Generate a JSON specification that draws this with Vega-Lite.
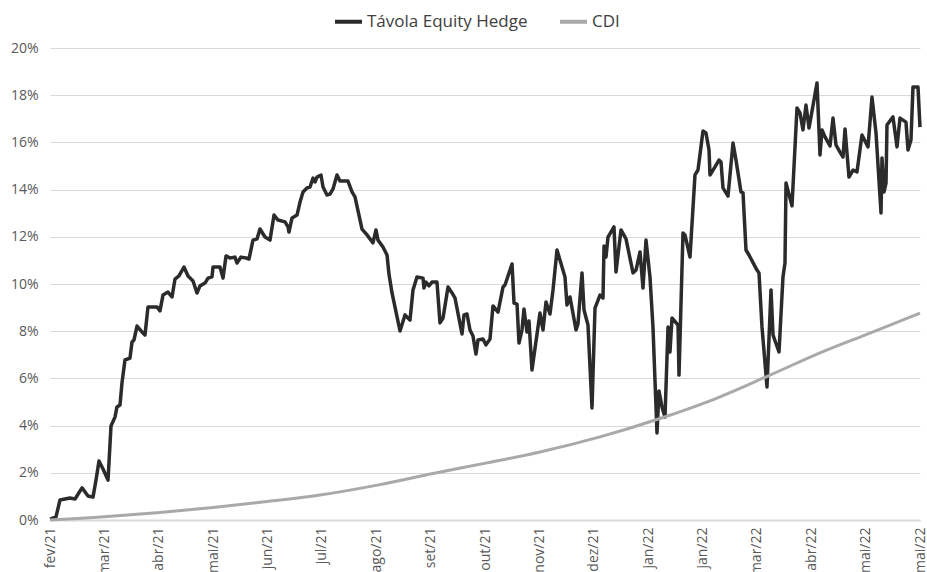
{
  "$schema": "https://vega.github.io/schema/vega-lite/v6.json",
  "width": 870,
  "height": 472,
  "autosize": {"type": "none"},
  "padding": {"left": 50, "top": 48, "right": 7, "bottom": 52},
  "background": "white",
  "config": {
    "font": "Open Sans",
    "view": {"stroke": null},
    "axis": {"labelFont": "Open Sans", "labelColor": "#595959", "labelFontSize": 14, "ticks": false, "title": null},
    "legend": {"labelFont": "Open Sans", "labelFontSize": 17, "labelColor": "#404040", "labelLimit": 400}
  },
  "datasets": {
    "fund": [
      {"t":0.000,"v":0.04},{"t":0.110,"v":0.13},{"t":0.184,"v":0.85},{"t":0.368,"v":0.93},{"t":0.460,"v":0.89},{"t":0.589,"v":1.36},{"t":0.699,"v":1.02},{"t":0.791,"v":0.97},{"t":0.846,"v":1.69},{"t":0.901,"v":2.50},{"t":0.975,"v":2.16},{"t":1.067,"v":1.69},{"t":1.122,"v":3.98},{"t":1.195,"v":4.36},{"t":1.232,"v":4.79},{"t":1.287,"v":4.87},{"t":1.324,"v":5.81},{"t":1.379,"v":6.78},{"t":1.471,"v":6.86},{"t":1.508,"v":7.54},{"t":1.545,"v":7.63},{"t":1.600,"v":8.22},{"t":1.692,"v":7.97},{"t":1.747,"v":7.84},{"t":1.802,"v":9.03},{"t":1.968,"v":9.03},{"t":2.023,"v":8.86},{"t":2.078,"v":9.53},{"t":2.170,"v":9.66},{"t":2.244,"v":9.45},{"t":2.299,"v":10.21},{"t":2.372,"v":10.34},{"t":2.464,"v":10.72},{"t":2.538,"v":10.34},{"t":2.630,"v":10.13},{"t":2.703,"v":9.62},{"t":2.759,"v":9.92},{"t":2.851,"v":10.04},{"t":2.906,"v":10.25},{"t":2.979,"v":10.30},{"t":2.998,"v":10.72},{"t":3.126,"v":10.72},{"t":3.182,"v":10.25},{"t":3.237,"v":11.19},{"t":3.310,"v":11.10},{"t":3.402,"v":11.14},{"t":3.439,"v":10.89},{"t":3.513,"v":11.14},{"t":3.605,"v":11.10},{"t":3.660,"v":11.06},{"t":3.733,"v":11.86},{"t":3.807,"v":11.91},{"t":3.862,"v":12.33},{"t":3.954,"v":11.99},{"t":4.046,"v":11.86},{"t":4.120,"v":12.92},{"t":4.193,"v":12.71},{"t":4.322,"v":12.63},{"t":4.377,"v":12.42},{"t":4.395,"v":12.20},{"t":4.451,"v":12.80},{"t":4.543,"v":12.92},{"t":4.598,"v":13.47},{"t":4.653,"v":13.90},{"t":4.726,"v":14.07},{"t":4.782,"v":14.11},{"t":4.837,"v":14.49},{"t":4.874,"v":14.32},{"t":4.910,"v":14.53},{"t":4.984,"v":14.62},{"t":5.021,"v":14.11},{"t":5.094,"v":13.77},{"t":5.149,"v":13.81},{"t":5.205,"v":14.03},{"t":5.278,"v":14.62},{"t":5.333,"v":14.36},{"t":5.480,"v":14.36},{"t":5.554,"v":13.90},{"t":5.609,"v":13.69},{"t":5.738,"v":12.33},{"t":5.830,"v":12.08},{"t":5.940,"v":11.74},{"t":5.995,"v":12.29},{"t":6.032,"v":11.86},{"t":6.124,"v":11.57},{"t":6.198,"v":11.23},{"t":6.234,"v":10.42},{"t":6.290,"v":9.62},{"t":6.437,"v":8.01},{"t":6.529,"v":8.69},{"t":6.621,"v":8.47},{"t":6.676,"v":9.75},{"t":6.749,"v":10.30},{"t":6.860,"v":10.25},{"t":6.878,"v":9.83},{"t":6.915,"v":10.08},{"t":6.970,"v":9.92},{"t":7.025,"v":10.08},{"t":7.117,"v":10.08},{"t":7.172,"v":8.35},{"t":7.228,"v":8.56},{"t":7.320,"v":9.87},{"t":7.393,"v":9.62},{"t":7.448,"v":9.41},{"t":7.577,"v":7.88},{"t":7.614,"v":8.69},{"t":7.669,"v":8.73},{"t":7.724,"v":8.05},{"t":7.779,"v":7.80},{"t":7.834,"v":7.03},{"t":7.871,"v":7.63},{"t":7.963,"v":7.67},{"t":8.018,"v":7.42},{"t":8.092,"v":7.67},{"t":8.147,"v":9.07},{"t":8.239,"v":8.81},{"t":8.331,"v":9.87},{"t":8.368,"v":9.96},{"t":8.497,"v":10.85},{"t":8.534,"v":9.19},{"t":8.589,"v":9.15},{"t":8.625,"v":7.50},{"t":8.680,"v":8.05},{"t":8.717,"v":8.94},{"t":8.772,"v":7.97},{"t":8.809,"v":8.43},{"t":8.864,"v":6.36},{"t":9.011,"v":8.77},{"t":9.067,"v":8.05},{"t":9.122,"v":9.24},{"t":9.195,"v":8.73},{"t":9.251,"v":9.75},{"t":9.324,"v":11.44},{"t":9.471,"v":10.30},{"t":9.508,"v":9.11},{"t":9.563,"v":9.45},{"t":9.674,"v":8.05},{"t":9.710,"v":8.31},{"t":9.784,"v":10.47},{"t":9.821,"v":8.90},{"t":9.894,"v":8.26},{"t":9.968,"v":4.75},{"t":10.023,"v":8.98},{"t":10.115,"v":9.53},{"t":10.170,"v":9.41},{"t":10.189,"v":11.61},{"t":10.225,"v":11.14},{"t":10.262,"v":11.99},{"t":10.372,"v":12.42},{"t":10.409,"v":10.51},{"t":10.501,"v":12.29},{"t":10.593,"v":11.91},{"t":10.722,"v":10.47},{"t":10.777,"v":10.59},{"t":10.851,"v":11.36},{"t":10.906,"v":9.83},{"t":10.961,"v":11.86},{"t":11.034,"v":10.30},{"t":11.089,"v":8.18},{"t":11.163,"v":3.69},{"t":11.200,"v":5.47},{"t":11.255,"v":4.79},{"t":11.310,"v":4.36},{"t":11.366,"v":8.18},{"t":11.402,"v":7.12},{"t":11.439,"v":8.56},{"t":11.550,"v":8.26},{"t":11.568,"v":6.14},{"t":11.641,"v":12.16},{"t":11.678,"v":12.08},{"t":11.770,"v":11.14},{"t":11.862,"v":14.62},{"t":11.917,"v":14.83},{"t":12.009,"v":16.48},{"t":12.064,"v":16.40},{"t":12.120,"v":15.68},{"t":12.138,"v":14.62},{"t":12.230,"v":14.96},{"t":12.303,"v":15.25},{"t":12.340,"v":15.17},{"t":12.377,"v":14.07},{"t":12.469,"v":13.73},{"t":12.561,"v":15.97},{"t":12.616,"v":15.25},{"t":12.708,"v":13.90},{"t":12.745,"v":13.86},{"t":12.800,"v":11.44},{"t":12.855,"v":11.23},{"t":13.002,"v":10.59},{"t":13.039,"v":10.47},{"t":13.094,"v":8.18},{"t":13.186,"v":5.64},{"t":13.260,"v":9.75},{"t":13.297,"v":7.84},{"t":13.407,"v":7.12},{"t":13.480,"v":10.30},{"t":13.517,"v":10.89},{"t":13.536,"v":14.28},{"t":13.646,"v":13.31},{"t":13.738,"v":17.46},{"t":13.793,"v":17.25},{"t":13.848,"v":16.53},{"t":13.903,"v":17.58},{"t":13.959,"v":16.61},{"t":14.106,"v":18.52},{"t":14.161,"v":15.47},{"t":14.198,"v":16.53},{"t":14.253,"v":16.23},{"t":14.345,"v":15.85},{"t":14.400,"v":17.03},{"t":14.455,"v":15.89},{"t":14.529,"v":15.59},{"t":14.584,"v":15.38},{"t":14.621,"v":16.57},{"t":14.694,"v":14.53},{"t":14.768,"v":14.83},{"t":14.841,"v":14.75},{"t":14.933,"v":16.31},{"t":15.044,"v":15.81},{"t":15.117,"v":17.92},{"t":15.191,"v":16.40},{"t":15.283,"v":13.01},{"t":15.301,"v":15.34},{"t":15.338,"v":13.90},{"t":15.375,"v":14.28},{"t":15.393,"v":16.74},{"t":15.503,"v":17.08},{"t":15.577,"v":15.81},{"t":15.632,"v":17.03},{"t":15.742,"v":16.86},{"t":15.779,"v":15.68},{"t":15.834,"v":16.10},{"t":15.871,"v":18.35},{"t":15.963,"v":18.35},{"t":16.000,"v":16.65}
    ],
    "cdi": [
      {"t":0,"v":0},{"t":0.5,"v":0.06},{"t":1.0,"v":0.14},{"t":2.023,"v":0.32},{"t":2.998,"v":0.53},{"t":3.991,"v":0.78},{"t":4.966,"v":1.06},{"t":6.069,"v":1.50},{"t":7.044,"v":1.97},{"t":8.037,"v":2.42},{"t":9.011,"v":2.88},{"t":10.115,"v":3.52},{"t":11.218,"v":4.30},{"t":12.138,"v":5.05},{"t":13.241,"v":6.14},{"t":14.161,"v":7.08},{"t":15.080,"v":7.92},{"t":16.0,"v":8.77}
    ]
  },
  "layer": [
    {
      "data": {"name": "fund"},
      "transform": [{"calculate": "'Távola Equity Hedge'", "as": "s"}],
      "mark": {"type": "line", "strokeWidth": 3.5, "strokeJoin": "round"},
      "encoding": {
        "x": {"field": "t", "type": "quantitative", "scale": {"domain": [0, 16], "nice": false, "zero": false},
          "axis": {"values": [0,1,2,3,4,5,6,7,8,9,10,11,12,13,14,15,16], "grid": false, "labelAngle": -90, "labelPadding": 7,
            "domainColor": "#d9d9d9", "domainWidth": 2,
            "labelExpr": "['fev/21','mar/21','abr/21','mai/21','jun/21','jul/21','ago/21','set/21','out/21','nov/21','dez/21','jan/22','jan/22','mar/22','abr/22','mai/22','mai/22'][datum.value]"}},
        "y": {"field": "v", "type": "quantitative", "scale": {"domain": [0, 20], "nice": false},
          "axis": {"values": [0,2,4,6,8,10,12,14,16,18,20], "domain": false, "gridColor": "#d9d9d9", "labelPadding": 12, "labelExpr": "datum.value + '%'"}},
        "color": {"field": "s", "type": "nominal",
          "scale": {"domain": ["Távola Equity Hedge", "CDI"], "range": ["#2b2b2b", "#a9a9a9"]},
          "legend": {"title": null, "orient": "none", "legendX": 283, "legendY": -42, "direction": "horizontal", "symbolType": "stroke", "symbolSize": 729, "symbolStrokeWidth": 4, "columnPadding": 24, "labelOffset": 3, "labelLimit": 400}}
      }
    },
    {
      "data": {"name": "cdi"},
      "transform": [{"calculate": "'CDI'", "as": "s"}],
      "mark": {"type": "line", "strokeWidth": 3, "strokeJoin": "round", "interpolate": "monotone"},
      "encoding": {
        "x": {"field": "t", "type": "quantitative"},
        "y": {"field": "v", "type": "quantitative"},
        "color": {"field": "s", "type": "nominal"}
      }
    }
  ]
}
